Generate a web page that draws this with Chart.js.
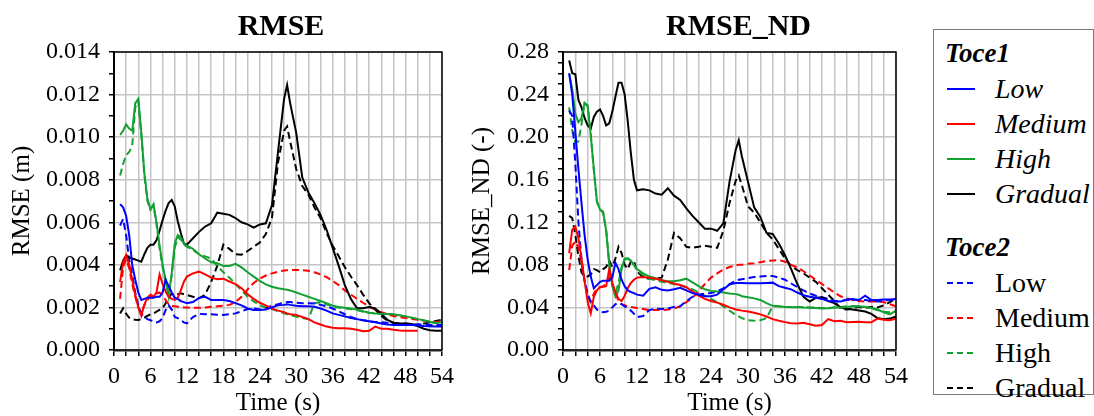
<!DOCTYPE html>
<html>
<head>
<meta charset="utf-8">
<script src="https://cdn.jsdelivr.net/npm/chart.js@4.4.0/dist/chart.umd.min.js"></script>
<style>
  body { margin: 0; background: #fff; width: 1094px; height: 416px; overflow: hidden; position: relative; font-family: "Liberation Serif", serif; }
  #c1 { position: absolute; left: 0; top: 0; }
  #c2 { position: absolute; left: 460px; top: 0; }
  #legend { position: absolute; left: 933px; top: 29px; width: 161px; height: 366px; border: 1px solid #7a7a7a; box-sizing: border-box; padding-top: 6px; }
  .row { height: 35px; line-height: 35px; font-size: 28px; white-space: nowrap; position: relative; }
  .row svg { position: absolute; left: 12px; top: 16px; }
  .row span { position: absolute; left: 61px; top: 0; }
  .head { font-weight: bold; font-style: italic; padding-left: 11px; font-size: 27px; }
  .gap { height: 19px; }
</style>
</head>
<body>
<canvas id="c1" width="460" height="416"></canvas>
<canvas id="c2" width="460" height="416"></canvas>
<div id="legend"></div>
<script>
// time axis (s)
const time = [1,1.5,2,2.5,3,3.5,4,4.5,5,5.5,6,6.5,7,7.5,8,8.5,9,9.5,10,10.5,11,11.5,12,
  13,14,15,16,17,18,19,20,21,22,23,24,25,26,27,28,28.5,
  29,30,31,32,33,34,35,36,37,38,39,40,41,42,43,44,45,46,47,48,49,50,51,52,53,54];

// RMSE (m) - Toce1 solid, Toce2 dashed
const rmseT1Low = [0.00685,0.0067,0.0063,0.0054,0.0040,0.0033,0.0027,0.00235,0.0024,0.00245,0.00245,0.00245,0.0025,0.0025,0.0027,0.0033,0.0030,0.0027,0.00245,0.0024,0.0023,0.00225,0.0022,
  0.00225,0.00245,0.0025,0.00235,0.00235,0.00235,0.0023,0.0022,0.0021,0.00195,0.00188,0.00188,0.0019,0.0020,0.0021,0.00212,0.00215,
  0.00212,0.00208,0.00205,0.00205,0.00203,0.00195,0.00185,0.00172,0.00165,0.00158,0.0015,0.00145,0.0014,0.00135,0.0013,0.00125,0.0012,0.00118,0.00118,0.00117,0.00117,0.00115,0.00113,0.00112,0.0011,0.0011];
const rmseT1Med = [0.0032,0.0041,0.00445,0.0040,0.0033,0.0026,0.0020,0.0016,0.00215,0.00245,0.0026,0.0025,0.0027,0.00355,0.0031,0.00275,0.0025,0.0024,0.00235,0.00245,0.0028,0.0032,0.00345,
  0.0036,0.00368,0.00355,0.0034,0.00333,0.00335,0.00322,0.0031,0.0029,0.00262,0.0024,0.00222,0.0021,0.00195,0.00185,0.00178,0.00172,
  0.00168,0.00165,0.00155,0.00145,0.0013,0.0012,0.0011,0.00105,0.00102,0.00102,0.0010,0.00095,0.00088,0.0009,0.0011,0.0010,0.0010,0.00095,0.00092,0.0009,0.0009,0.0009,null,null,null,null];
const rmseT1High = [0.0101,0.0103,0.0106,0.0104,0.0103,0.0116,0.0118,0.0102,0.0083,0.0071,0.0066,0.00685,0.0060,0.0049,0.0040,0.0033,0.0025,0.0036,0.0050,0.0054,0.0053,0.0050,0.0049,
  0.00475,0.0045,0.0043,0.00412,0.00408,0.00395,0.00395,0.00405,0.00388,0.00365,0.00345,0.00325,0.00308,0.00297,0.0029,0.00285,0.00283,
  0.0028,0.0027,0.0026,0.0025,0.0024,0.0023,0.0022,0.00208,0.00202,0.00198,0.00195,0.0019,0.00182,0.00175,0.00172,0.0017,0.00169,0.00168,0.00163,0.00158,0.00152,0.00145,0.0014,0.00133,0.00127,0.0013];
const rmseT1Grad = [0.00375,0.0042,0.00445,0.00435,0.0043,0.00425,0.0042,0.00415,0.0045,0.0048,0.00495,0.00495,0.00515,0.0056,0.0061,0.00655,0.0069,0.00705,0.00675,0.00605,0.0055,0.0050,0.00495,
  0.00525,0.00555,0.0058,0.00595,0.00645,0.0064,0.00635,0.0062,0.0060,0.0059,0.00575,0.0059,0.00595,0.0068,0.0093,0.0118,0.01245,
  0.0116,0.0102,0.0081,0.0074,0.0069,0.00635,0.00565,0.0048,0.00395,0.00305,0.0024,0.00196,0.00196,0.00202,0.00195,0.0017,0.00142,0.00128,0.00125,0.00125,0.00122,0.00112,0.0010,0.00093,0.0009,0.0009];
const rmseT2Low = [0.00585,0.00615,0.0054,0.0042,0.0035,0.0027,0.0021,0.0017,0.00155,0.00145,0.0014,0.00135,0.0013,0.00135,0.0015,0.00188,0.0021,0.0019,0.00155,0.0015,0.0014,0.0013,0.00125,
  0.00155,0.0017,0.00168,0.00168,0.00166,0.00165,0.00168,0.00172,0.00182,0.00192,0.00195,0.0019,0.00195,0.00208,0.00215,0.00222,0.00225,
  0.00225,0.00222,0.0022,0.0022,0.00218,0.00212,0.00205,0.00195,0.00182,0.00168,0.00155,0.00145,0.0014,0.00135,0.00132,0.0013,0.00128,0.00127,0.00125,0.00124,0.00122,0.0012,0.00119,0.00118,0.00118,0.00117];
const rmseT2Med = [0.0024,0.0039,0.00425,0.00385,0.0031,0.0025,0.0020,0.00175,0.0021,0.00235,0.0025,0.0026,0.00265,0.0027,0.00255,0.00235,0.00215,0.00208,0.00205,0.00203,0.00202,0.0020,0.0020,
  0.00198,0.00198,0.0020,0.00203,0.00205,0.00208,0.00212,0.00225,0.0025,0.00285,0.00315,0.00335,0.0035,0.0036,0.00368,0.00373,0.00375,
  0.00376,0.00376,0.00375,0.00372,0.00365,0.00355,0.00342,0.00325,0.00305,0.0028,0.0026,0.0024,0.00222,0.00205,0.0019,0.00178,0.00168,0.0016,0.00155,0.0015,0.00146,0.00142,0.00138,0.00134,0.00132,0.00135];
const rmseT2High = [0.0082,0.00875,0.00915,0.0093,0.0096,0.0114,0.0117,0.0101,0.0082,0.0070,0.0066,0.0068,0.0059,0.0048,0.0039,0.0032,0.0026,0.0035,0.0048,0.0053,0.0052,0.00495,0.00485,
  0.0047,0.0045,0.0044,0.0043,0.00395,0.00365,0.0034,0.0031,0.0028,0.0025,0.00228,0.0021,0.0020,0.00192,0.00182,0.00172,0.00168,
  0.00163,0.00157,0.0015,0.00145,0.0022,0.00225,0.00215,0.00205,0.0020,0.00195,0.00192,0.00188,0.0018,0.00175,0.00172,0.0017,0.00168,0.00166,0.00162,0.00158,0.00152,0.00145,0.00138,0.00132,0.00127,0.00128];
const rmseT2Grad = [0.00172,0.00196,0.0017,0.00152,0.00145,0.00142,0.00141,0.00145,0.00152,0.0016,0.00168,0.00172,0.0018,0.00188,0.00196,0.0022,0.00245,0.00266,0.0026,0.00262,0.00266,0.00262,0.00258,
  0.0025,0.00243,0.0026,0.0032,0.00395,0.00495,0.00475,0.0045,0.00448,0.00465,0.00485,0.00505,0.00545,0.0062,0.0088,0.0103,0.0105,
  0.0098,0.0085,0.0077,0.0073,0.0067,0.0062,0.0055,0.0049,0.0044,0.0039,0.00345,0.00305,0.0026,0.0022,0.0019,0.0016,0.00138,0.00128,0.00122,0.0012,0.00118,0.0012,0.00124,0.0013,0.00136,0.00142];

// RMSE_ND (-)
const ndT1Low = [0.26,0.24,0.205,0.17,0.138,0.108,0.085,0.069,0.058,0.061,0.064,0.065,0.065,0.065,0.068,0.082,0.076,0.066,0.060,0.056,0.0545,0.0535,0.052,
  0.051,0.0575,0.059,0.0565,0.056,0.057,0.0585,0.056,0.0535,0.052,0.0505,0.0505,0.052,0.057,0.0615,0.063,0.063,
  0.063,0.0627,0.0627,0.0627,0.063,0.0633,0.060,0.0585,0.057,0.054,0.0515,0.050,0.049,0.048,0.046,0.0455,0.0455,0.0475,0.048,0.047,0.051,0.047,0.047,0.0475,0.0475,0.048];
const ndT1Med = [0.091,0.113,0.116,0.105,0.086,0.065,0.045,0.0345,0.050,0.056,0.059,0.0595,0.060,0.076,0.063,0.054,0.048,0.046,0.051,0.058,0.063,0.066,0.068,
  0.0685,0.068,0.067,0.0655,0.064,0.0625,0.061,0.059,0.055,0.051,0.048,0.046,0.0445,0.0425,0.040,0.038,0.0375,
  0.037,0.0362,0.035,0.0335,0.0315,0.029,0.0275,0.0262,0.0252,0.025,0.0255,0.0242,0.0228,0.0235,0.029,0.027,0.0275,0.026,0.0262,0.0265,0.026,0.026,0.0295,0.0285,0.028,0.0295];
const ndT1High = [0.26,0.245,0.222,0.214,0.218,0.232,0.229,0.202,0.170,0.140,0.132,0.130,0.112,0.080,0.060,0.050,0.056,0.076,0.086,0.086,0.084,0.080,0.076,
  0.072,0.069,0.0675,0.0655,0.0645,0.0645,0.0655,0.067,0.0635,0.060,0.057,0.0555,0.055,0.054,0.053,0.0525,0.052,
  0.0505,0.0495,0.0485,0.047,0.044,0.0415,0.041,0.0405,0.0402,0.0405,0.040,0.0398,0.0395,0.039,0.0392,0.040,0.040,0.0405,0.041,0.041,0.0405,0.0395,0.038,0.0355,0.0335,0.037];
const ndT1Grad = [0.272,0.260,0.259,0.235,0.228,0.218,0.211,0.208,0.219,0.224,0.226,0.220,0.211,0.213,0.224,0.238,0.251,0.251,0.240,0.215,0.185,0.160,0.150,
  0.151,0.150,0.147,0.146,0.152,0.145,0.141,0.133,0.126,0.120,0.114,0.114,0.112,0.119,0.158,0.188,0.197,
  0.182,0.158,0.134,0.125,0.110,0.109,0.100,0.089,0.076,0.062,0.050,0.0455,0.049,0.0495,0.046,0.044,0.040,0.0385,0.038,0.0372,0.0362,0.034,0.030,0.029,0.0295,0.0315];
const ndT2Low = [0.225,0.22,0.175,0.12,0.085,0.065,0.053,0.045,0.042,0.038,0.036,0.0355,0.036,0.037,0.040,0.043,0.044,0.043,0.041,0.039,0.037,0.034,0.031,
  0.032,0.0375,0.039,0.0385,0.039,0.0405,0.041,0.046,0.050,0.052,0.053,0.0535,0.055,0.058,0.062,0.065,0.066,
  0.0665,0.0675,0.0685,0.069,0.0695,0.0695,0.068,0.066,0.0625,0.059,0.056,0.053,0.051,0.0495,0.048,0.046,0.046,0.047,0.047,0.047,0.047,0.046,0.0455,0.0465,0.047,0.047];
const ndT2Med = [0.075,0.098,0.102,0.096,0.082,0.065,0.050,0.045,0.053,0.058,0.059,0.060,0.062,0.068,0.062,0.054,0.046,0.043,0.042,0.041,0.0405,0.040,0.0395,
  0.0385,0.0375,0.0375,0.0375,0.038,0.039,0.041,0.045,0.049,0.055,0.062,0.068,0.072,0.0755,0.078,0.0795,0.080,
  0.0802,0.081,0.0815,0.0825,0.0835,0.0842,0.0845,0.083,0.080,0.0775,0.074,0.070,0.066,0.062,0.058,0.054,0.0505,0.0485,0.047,0.046,0.0455,0.0455,0.0455,0.045,0.043,0.041];
const ndT2High = [0.228,0.206,0.195,0.196,0.212,0.232,0.230,0.203,0.169,0.139,0.132,0.129,0.113,0.082,0.061,0.053,0.063,0.078,0.085,0.086,0.084,0.080,0.075,
  0.070,0.067,0.0655,0.064,0.063,0.062,0.0605,0.059,0.057,0.054,0.051,0.048,0.045,0.041,0.037,0.033,0.0315,
  0.030,0.028,0.0275,0.028,0.030,0.041,0.041,0.0405,0.0405,0.0405,0.0402,0.040,0.0398,0.0395,0.0392,0.040,0.0405,0.041,0.0412,0.0408,0.0405,0.039,0.0375,0.036,0.0355,0.036];
const ndT2Grad = [0.126,0.124,0.108,0.088,0.073,0.069,0.069,0.071,0.076,0.075,0.073,0.076,0.078,0.084,0.078,0.086,0.097,0.091,0.080,0.076,0.083,0.084,0.074,
  0.068,0.067,0.067,0.068,0.085,0.110,0.105,0.097,0.096,0.097,0.098,0.097,0.096,0.112,0.138,0.159,0.164,
  0.155,0.135,0.129,0.120,0.110,0.104,0.095,0.086,0.079,0.075,0.072,0.068,0.064,0.058,0.052,0.046,0.039,0.038,0.039,0.0405,0.0395,0.0405,0.040,0.042,0.045,0.0485];

const levels = ["Low", "Medium", "High", "Gradual"];
const colors = ["#0000ff", "#ff0000", "#14a032", "#000000"];
const groups = ["Toce1", "Toce2"];

const serif = "'Liberation Serif', 'Times New Roman', serif";

function makeSets(toce1, toce2) {
  let sets = [];
  [toce1, toce2].forEach((list, g) => {
    list.forEach((arr, i) => {
      sets.push({
        label: groups[g] + " " + levels[i],
        data: time.map((t, k) => ({ x: t, y: arr[k] })),
        borderColor: colors[i],
        borderWidth: 2,
        borderDash: g == 1 ? [7, 4] : [],
        pointRadius: 0,
        tension: 0,
        spanGaps: false,
      });
    });
  });
  return sets;
}

// frame on top/right and panel title
const framePlugin = {
  id: "frame",
  afterDatasetsDraw(chart, args, opts) {
    const { ctx, chartArea: a } = chart;
    ctx.save();
    ctx.strokeStyle = "#000";
    ctx.lineWidth = 1.5;
    ctx.beginPath();
    ctx.moveTo(a.left, a.top);
    ctx.lineTo(a.right, a.top);
    ctx.lineTo(a.right, a.bottom);
    ctx.stroke();
    ctx.fillStyle = "#000";
    ctx.font = "bold 30px " + serif;
    ctx.textAlign = "center";
    ctx.textBaseline = "middle";
    ctx.fillText(opts.text, (a.left + a.right) / 2 + opts.shift, 27);
    ctx.restore();
  },
};

function makeChart(id, sets, o) {
  const isMajorY = (v) => Math.round(v / o.step) % o.every === 0;
  return new Chart(document.getElementById(id), {
    type: "line",
    data: { datasets: sets },
    options: {
      responsive: false,
      animation: false,
      devicePixelRatio: 1,
      layout: { padding: { left: 0, right: o.padRight, top: 52, bottom: 0 } },
      plugins: {
        legend: { display: false },
        tooltip: { enabled: false },
        frame: { text: o.title, shift: o.shift },
      },
      scales: {
        x: {
          type: "linear",
          min: 0,
          max: 54,
          afterFit: (s) => { s.height = 66; },
          afterBuildTicks: (s) => {
            s.ticks = [];
            for (let v = 0; v <= 54; v += 2) s.ticks.push({ value: v });
          },
          border: { color: "#222", width: 2.5 },
          grid: { color: "#c4c4c4", lineWidth: 1.5, tickLength: 6, tickColor: "#000", tickWidth: 1.5 },
          ticks: {
            autoSkip: false,
            maxRotation: 0,
            padding: 6,
            color: "#000",
            font: { family: serif, size: 24 },
            callback: (v) => (v % 6 === 0 ? String(v) : ""),
          },
          title: {
            display: true,
            text: "Time (s)",
            color: "#000",
            padding: 0,
            font: { family: serif, size: 25, lineHeight: 1 },
          },
        },
        y: {
          min: 0,
          max: o.max,
          afterFit: (s) => { s.width = o.axisWidth; },
          afterBuildTicks: (s) => {
            s.ticks = [];
            const n = Math.round(o.max / o.step);
            for (let j = 0; j <= n; j++) s.ticks.push({ value: +(j * o.step).toFixed(5) });
          },
          border: { color: "#000", width: 2 },
          grid: {
            color: (c) => (isMajorY(c.tick.value) ? "#c4c4c4" : "rgba(0,0,0,0)"),
            lineWidth: 1.5,
            tickLength: 5,
            tickColor: "#000",
            tickWidth: 1.5,
          },
          ticks: {
            autoSkip: false,
            padding: 9,
            color: "#000",
            font: { family: serif, size: 24 },
            callback: (v) => (isMajorY(v) ? v.toFixed(o.digits) : ""),
          },
          title: {
            display: true,
            text: o.yTitle,
            color: "#000",
            padding: { top: 9.5, bottom: 0 },
            font: { family: serif, size: 25, lineHeight: 1 },
          },
        },
      },
    },
    plugins: [framePlugin],
  });
}

makeChart("c1",
  makeSets([rmseT1Low, rmseT1Med, rmseT1High, rmseT1Grad], [rmseT2Low, rmseT2Med, rmseT2High, rmseT2Grad]),
  { title: "RMSE", shift: 3, yTitle: "RMSE (m)", max: 0.014, step: 0.001, every: 2, digits: 3, axisWidth: 114, padRight: 13 });

makeChart("c2",
  makeSets([ndT1Low, ndT1Med, ndT1High, ndT1Grad], [ndT2Low, ndT2Med, ndT2High, ndT2Grad]),
  { title: "RMSE_ND", shift: 9, yTitle: "RMSE_ND (-)", max: 0.28, step: 0.01, every: 4, digits: 2, axisWidth: 103, padRight: 24 });

// legend (html)
let legend = document.getElementById("legend");
groups.forEach((g, gi) => {
  if (gi > 0) legend.insertAdjacentHTML("beforeend", `<div class="gap"></div>`);
  legend.insertAdjacentHTML("beforeend", `<div class="row head">${g}</div>`);
  levels.forEach((name, i) => {
    let dash = gi == 1 ? `stroke-dasharray="6,4"` : "";
    let style = gi == 0 ? "font-style:italic" : "";
    let html = `
    <div class="row">
      <svg width="30" height="4"><line x1="1" y1="2" x2="29" y2="2" stroke="${colors[i]}" stroke-width="2" ${dash}/></svg>
      <span style="${style}">${name}</span>
    </div>`;
    legend.insertAdjacentHTML("beforeend", html);
  });
});
</script>
</body>
</html>
